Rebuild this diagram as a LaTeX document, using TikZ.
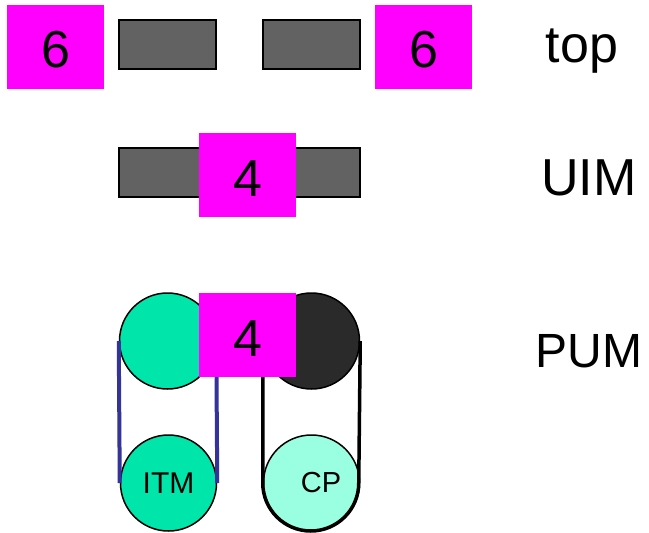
\documentclass[tikz,border=0pt]{standalone}
\usepackage{fontspec}
\setmainfont{Liberation Sans}
\usepackage{xcolor}
\definecolor{magbox}{RGB}{255,0,255}
\definecolor{grayblock}{RGB}{98,98,98}
\definecolor{itmgreen}{RGB}{0,229,170}
\definecolor{cpgreen}{RGB}{153,255,224}
\definecolor{darkwheel}{RGB}{42,42,42}
\definecolor{belt}{RGB}{51,51,153}
\tikzset{
  stage/.style={fill=magbox, minimum width=97pt, minimum height=84pt, inner sep=0pt,
    text height=42pt, font=\fontsize{52}{60}\selectfont},
  block/.style={draw=black, line width=1.5pt, fill=grayblock, inner sep=0pt},
  wheel/.style={circle, draw=black, line width=1.5pt, minimum size=96pt, inner sep=0pt},
  tag/.style={anchor=base, font=\fontsize{52}{60}\selectfont}
}

\begin{document}
\begin{tikzpicture}[x=1pt,y=-1pt]
\useasboundingbox (0,0) rectangle (649,533);
% top stage
\node[block, minimum width=97pt, minimum height=49pt] (blockL) at (167.5,44.5) {};
\node[block, minimum width=97pt, minimum height=49pt] (blockR) at (311.5,44.5) {};
\node[stage] (topL) at (55.5,47) {6};
\node[stage] (topR) at (423.5,47) {6};
\node[tag] (toptag) at (582,62) {top};
% UIM stage
\node[block, minimum width=241pt, minimum height=49pt] (uimblock) at (239.5,172.5) {};
\node[stage] (uim) at (247.5,175) {4};
\node[tag] (uimtag) at (589,195) {UIM};
% PUM stage
\node[wheel, fill=itmgreen] (pumL) at (167.5,341) {};
\node[wheel, fill=darkwheel] (pumR) at (311.5,341) {};
\node[wheel, fill=itmgreen, font=\fontsize{30}{34}\selectfont] (itm) at (168.5,483) {ITM};
\node[wheel, fill=cpgreen] (cp) at (311.5,483) {};
\node[font=\fontsize{29}{34}\selectfont] (cplabel) at (321,483) {CP};
\draw[belt, line width=4pt] (pumL.west) -- (itm.west);
\draw[belt, line width=4pt] (pumL.east) -- (itm.east);
\draw[black, line width=3.5pt] (pumR.west) -- (cp.west)
  arc[start angle=180, end angle=360, radius=48pt] -- (pumR.east);
\node[stage] (pum) at (247.5,335) {4};
\node[tag, font=\fontsize{48}{56}\selectfont] (pumtag) at (589,367) {PUM};
\end{tikzpicture}
\end{document}
